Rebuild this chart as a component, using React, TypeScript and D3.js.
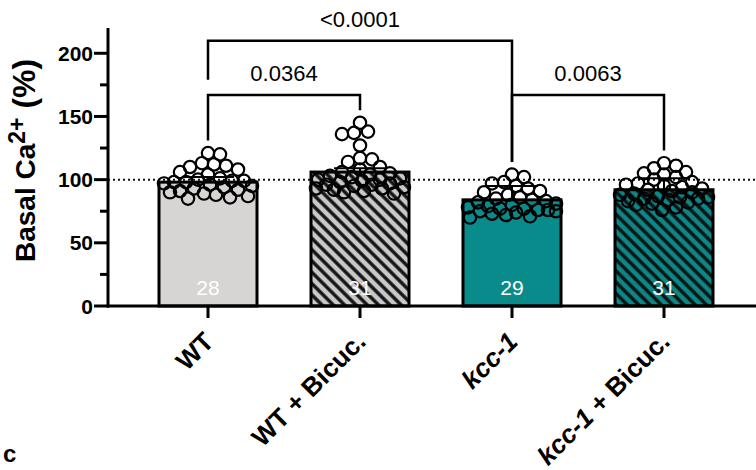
import React from 'react';
import * as d3 from 'd3';

// groups, as on the x axis
const categories = ['WT', 'WT + Bicuc.', 'kcc-1', 'kcc-1 + Bicuc.'];
const italicPart = ['', '', 'kcc-1', 'kcc-1'];

// bar heights and error (upper)
const means = [98, 106, 84, 92];
const errs = [4, 3, 11, 9];

// individual cells (Basal Ca2+ %)
const wt = [121, 120, 113, 112, 111, 110, 108, 106, 104, 101, 100, 99, 99, 98, 98, 97, 96, 95, 94, 93, 92, 91, 90, 89, 88, 87, 86, 85];
const wtBicuc = [145, 138, 137, 136, 127, 117, 116, 114, 110, 108, 106, 105, 104, 103, 102, 101, 100, 100, 99, 98, 97, 96, 96, 95, 94, 93, 93, 92, 91, 90, 89];
const kcc1 = [104, 102, 98, 97, 95, 93, 91, 90, 88, 86, 85, 84, 83, 82, 81, 80, 79, 78, 77, 77, 76, 76, 75, 75, 74, 73, 72, 71, 70];
const kcc1Bicuc = [113, 111, 109, 106, 105, 104, 102, 100, 98, 97, 96, 95, 94, 93, 92, 91, 90, 89, 88, 87, 86, 86, 85, 85, 84, 83, 82, 81, 80, 78, 76];
const groups = [wt, wtBicuc, kcc1, kcc1Bicuc];

// pairwise p values: [from, to, label, bracket height]
const comparisons: [number, number, string, number][] = [
  [0, 1, '0.0364', 167],
  [0, 2, '<0.0001', 210],
  [2, 3, '0.0063', 167],
];

const yTicks = [0, 50, 100, 150, 200];
const yMinor = [25, 75, 125, 175];

const W = 756;
const H = 470;
const font = '"Liberation Sans", Arial, sans-serif';

const y = d3.scaleLinear().domain([0, 220]).range([306, 28]);
const x = d3.scalePoint<string>().domain(categories).range([208, 664]);
const barW = 98;
const axisX = 108;

const fills = ['#d7d4d4', 'url(#hatchGray)', '#0a8b8b', 'url(#hatchTeal)'];

function swarm(values: number[], cx: number) {
  const minDist = 11;
  const step = 2;
  const maxOff = 44;
  const order = d3.range(values.length).sort((a, b) => values[b] - values[a]);
  const placed: { x: number; y: number }[] = [];
  const out: { x: number; y: number }[] = new Array(values.length);
  order.forEach((i) => {
    const py = y(values[i]);
    let best = 0;
    let bestD = -1;
    for (let k = 0; k <= maxOff / step; k++) {
      const offs = k === 0 ? [0] : [k * step, -k * step];
      let found = false;
      for (const o of offs) {
        const d = placed.length
          ? d3.min(placed, (p) => Math.hypot(p.x - (cx + o), p.y - py))!
          : Infinity;
        if (d >= minDist) {
          best = o;
          found = true;
          break;
        }
        if (d > bestD) {
          bestD = d;
          best = o;
        }
      }
      if (found) break;
    }
    const pt = { x: cx + best, y: py };
    placed.push(pt);
    out[i] = pt;
  });
  return out;
}

export default function App() {
  const groupMax = groups.map((g) => d3.max(g)!);

  const legEnd = (ci: number, g: number) => {
    const [a, b, , lvl] = comparisons[ci];
    let v = groupMax[g] + 10;
    comparisons.forEach(([a2, b2, , l2], j) => {
      if (j !== ci && l2 < lvl && (a2 === g || b2 === g) && a2 >= a && b2 <= b) v = Math.max(v, l2 + 12);
    });
    return v;
  };

  return (
    <svg width={W} height={H} style={{ position: 'absolute', left: 0, top: 0, background: '#fff' }} fontFamily={font}>
      <defs>
        <pattern id="hatchGray" patternUnits="userSpaceOnUse" width={8} height={8} patternTransform="rotate(-45)">
          <rect width={8} height={8} fill="#c9c9c9" />
          <line x1={4} y1={0} x2={4} y2={8} stroke="#111" strokeWidth={3.4} />
        </pattern>
        <pattern id="hatchTeal" patternUnits="userSpaceOnUse" width={8} height={8} patternTransform="rotate(-45)">
          <rect width={8} height={8} fill="#0b8787" />
          <line x1={4} y1={0} x2={4} y2={8} stroke="#111" strokeWidth={3.4} />
        </pattern>
      </defs>

      {/* reference line at 100 % */}
      <line x1={axisX} x2={W} y1={y(100)} y2={y(100)} stroke="#111" strokeWidth={2} strokeDasharray="2,3" />

      {/* bars */}
      {categories.map((c, i) => (
        <rect key={c} x={x(c)! - barW / 2} y={y(means[i])} width={barW} height={y(0) - y(means[i])}
          fill={fills[i]} stroke="#000" strokeWidth={3} />
      ))}

      {/* error bars */}
      {categories.map((c, i) => (
        <g key={c} stroke="#000" strokeWidth={2}>
          <line x1={x(c)} x2={x(c)} y1={y(means[i])} y2={y(means[i] + errs[i])} />
          <line x1={x(c)! - 26} x2={x(c)! + 26} y1={y(means[i] + errs[i])} y2={y(means[i] + errs[i])} />
        </g>
      ))}

      {/* points */}
      {groups.map((g, i) =>
        swarm(g, x(categories[i])!).map((p, j) => (
          <circle key={`${i}-${j}`} cx={p.x} cy={p.y} r={6.2} fill="none" stroke="#000" strokeWidth={2.2} />
        ))
      )}

      {/* n per group */}
      {categories.map((c, i) => (
        <text key={c} x={x(c)} y={295} textAnchor="middle" fill="#fff" fontSize={21}>{groups[i].length}</text>
      ))}

      {/* y axis */}
      <line x1={axisX} x2={axisX} y1={y(220)} y2={y(0) + 1.5} stroke="#000" strokeWidth={3} />
      {yTicks.map((t) => (
        <g key={t}>
          <line x1={axisX - 14} x2={axisX} y1={y(t)} y2={y(t)} stroke="#000" strokeWidth={3} />
          <text x={axisX - 15} y={y(t)} dy="0.36em" textAnchor="end" fontSize={21} fontWeight="bold">{t}</text>
        </g>
      ))}
      {yMinor.map((t) => (
        <line key={t} x1={axisX - 8} x2={axisX} y1={y(t)} y2={y(t)} stroke="#000" strokeWidth={3} />
      ))}
      <text transform={`translate(35,262) rotate(-90)`} fontSize={28} fontWeight="bold">
        Basal Ca<tspan fontSize={23} dy={-10}>2+</tspan><tspan dy={10} fontSize={32}> (%)</tspan>
      </text>

      {/* x axis */}
      <line x1={axisX - 1.5} x2={W} y1={y(0)} y2={y(0)} stroke="#000" strokeWidth={3} />
      {categories.map((c, i) => (
        <g key={c}>
          <line x1={x(c)} x2={x(c)} y1={y(0)} y2={y(0) + 12} stroke="#000" strokeWidth={3} />
          <text transform={`translate(${x(c)! - 6},330) rotate(-45)`} dy="0.72em" textAnchor="end" fontSize={26} fontWeight="bold">
            {italicPart[i] ? (
              <>
                <tspan fontStyle="italic">{italicPart[i]}</tspan>
                {c.slice(italicPart[i].length)}
              </>
            ) : c}
          </text>
        </g>
      ))}

      {/* significance brackets */}
      {comparisons.map(([a, b, label, lvl], ci) => {
        const xa = x(categories[a])!;
        const xb = x(categories[b])!;
        return (
          <g key={label}>
            <path d={`M${xa},${y(legEnd(ci, a))}V${y(lvl)}H${xb}V${y(legEnd(ci, b))}`} fill="none" stroke="#000" strokeWidth={2.5} />
            <text x={(xa + xb) / 2} y={y(lvl) - 14} textAnchor="middle" fontSize={22}>{label}</text>
          </g>
        );
      })}

      {/* panel letter at the bottom edge */}
      <text x={3} y={462} fontSize={24} fontWeight="bold">c</text>
    </svg>
  );
}
